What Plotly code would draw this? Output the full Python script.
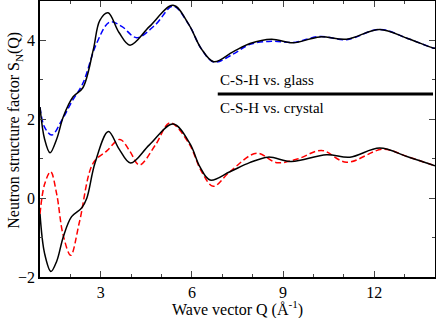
import plotly.graph_objects as go

# Upper pair (shifted): C-S-H vs glass
glass_csh_x = [1.0, 1.15, 1.33, 1.55, 1.77, 2.09, 2.41, 2.75, 2.97, 3.24, 3.6, 3.96, 4.6, 5.38, 5.9, 6.3, 6.72, 7.35, 7.91, 8.62, 9.33, 10.21, 11.09, 12.18, 13.1, 13.93, 14.0]
glass_csh_y = [2.31, 1.5, 1.15, 1.5, 2.07, 2.57, 2.8, 3.75, 4.51, 4.70, 4.2, 3.88, 4.35, 4.89, 4.4, 3.8, 3.46, 3.71, 3.92, 4.03, 3.94, 4.09, 4.03, 4.28, 4.05, 3.81, 3.80]
glass_x = [1.0, 1.15, 1.39, 1.7, 2.05, 2.41, 2.86, 3.30, 3.7, 4.18, 4.8, 5.38, 5.9, 6.3, 6.72, 7.35, 7.91, 8.62, 9.33, 10.21, 11.09, 12.18, 13.1, 13.93, 14.0]
glass_y = [2.3, 1.8, 1.6, 1.95, 2.45, 2.91, 3.92, 4.47, 4.35, 4.07, 4.4, 4.87, 4.4, 3.8, 3.45, 3.65, 3.9, 3.98, 3.95, 4.10, 4.02, 4.28, 4.05, 3.81, 3.80]

# Lower pair: C-S-H vs crystal
cryst_csh_x = [1.0, 1.15, 1.36, 1.55, 1.77, 2.04, 2.37, 2.54, 2.81, 3.25, 3.6, 3.98, 4.6, 5.38, 5.93, 6.26, 6.6, 7.25, 7.9, 8.51, 9.28, 10.43, 11.2, 12.18, 13.1, 14.0]
cryst_csh_y = [-0.4, -1.4, -1.86, -1.6, -0.97, -0.47, -0.25, 0.0, 0.89, 1.69, 1.25, 0.89, 1.35, 1.88, 1.39, 0.8, 0.46, 0.67, 0.9, 1.04, 0.93, 1.10, 1.04, 1.27, 1.05, 0.82]
crystal_x = [1.0, 1.15, 1.35, 1.55, 1.76, 2.01, 2.3, 2.75, 3.2, 3.63, 3.95, 4.27, 4.8, 5.28, 5.9, 6.3, 6.7, 7.25, 8.13, 8.79, 9.5, 10.27, 11.09, 12.29, 13.1, 14.0]
crystal_y = [-0.4, 0.35, 0.67, 0.1, -0.93, -1.45, -0.6, 0.89, 1.2, 1.49, 1.2, 0.84, 1.35, 1.91, 1.39, 0.7, 0.30, 0.67, 1.14, 0.90, 1.0, 1.21, 0.91, 1.24, 1.05, 0.82]

x_ticks = [3, 6, 9, 12]
y_ticks = [-2, 0, 2, 4]
legend_labels = ["C-S-H vs. glass", "C-S-H vs. crystal"]
x_title = "Wave vector Q (Å<sup>-1</sup>)"
y_title = "Neutron structure factor S<sub>N</sub>(Q)"

fig = go.Figure()
fig.add_trace(go.Scatter(x=glass_x, y=glass_y, mode="lines",
                         line=dict(color="#0000ff", width=1.5, dash="6px,3px", shape="spline", smoothing=1.0)))
fig.add_trace(go.Scatter(x=glass_csh_x, y=glass_csh_y, mode="lines",
                         line=dict(color="black", width=1.5, shape="spline", smoothing=1.0)))
fig.add_trace(go.Scatter(x=crystal_x, y=crystal_y, mode="lines",
                         line=dict(color="#ff0000", width=1.5, dash="6px,3px", shape="spline", smoothing=1.0)))
fig.add_trace(go.Scatter(x=cryst_csh_x, y=cryst_csh_y, mode="lines",
                         line=dict(color="black", width=1.5, shape="spline", smoothing=1.0)))

fam = "Liberation Serif, Times New Roman, serif"
font = dict(family=fam, size=16, color="black")

fig.update_layout(
    width=436, height=318,
    margin=dict(l=40, r=1, t=1, b=41),
    paper_bgcolor="white", plot_bgcolor="white",
    showlegend=False,
    font=font,
    xaxis=dict(range=[1, 14], tickvals=x_ticks, ticks="inside", ticklen=6, tickwidth=1,
               showline=True, linecolor="black", linewidth=1.5, mirror="ticks",
               showgrid=False, zeroline=False, automargin=False,
               minor=dict(ticks="inside", ticklen=3, dtick=1, tick0=0),
               tickfont=font),
    yaxis=dict(range=[-2, 5], tickvals=y_ticks, ticks="inside", ticklen=6, tickwidth=1,
               showline=True, linecolor="black", linewidth=1.5, mirror="ticks",
               showgrid=False, zeroline=False, automargin=False,
               minor=dict(ticks="inside", ticklen=3, dtick=1, tick0=1),
               tickfont=font),
)

# axis titles
fig.add_annotation(x=0.5, y=0, xref="paper", yref="paper", yshift=-31, text=x_title,
                   showarrow=False, xanchor="center", yanchor="middle", font=font)
fig.add_annotation(x=0, y=0.53, xref="paper", yref="paper", xshift=-25, text=y_title, textangle=-90,
                   showarrow=False, xanchor="center", yanchor="middle", font=font)

# legend-like labels
fig.add_annotation(x=0.45, y=0.714, xref="paper", yref="paper", text=legend_labels[0],
                   showarrow=False, xanchor="left", yanchor="middle", font=dict(family=fam, size=15))
fig.add_annotation(x=0.45, y=0.612, xref="paper", yref="paper", text=legend_labels[1],
                   showarrow=False, xanchor="left", yanchor="middle", font=dict(family=fam, size=15))
fig.add_shape(type="line", xref="paper", yref="paper", x0=0.45, x1=0.995, y0=0.663, y1=0.663,
              line=dict(color="black", width=3))

fig.write_html("out.html", config={"displayModeBar": False},
               post_script="document.body.style.margin='0';document.body.style.overflow='hidden';")
